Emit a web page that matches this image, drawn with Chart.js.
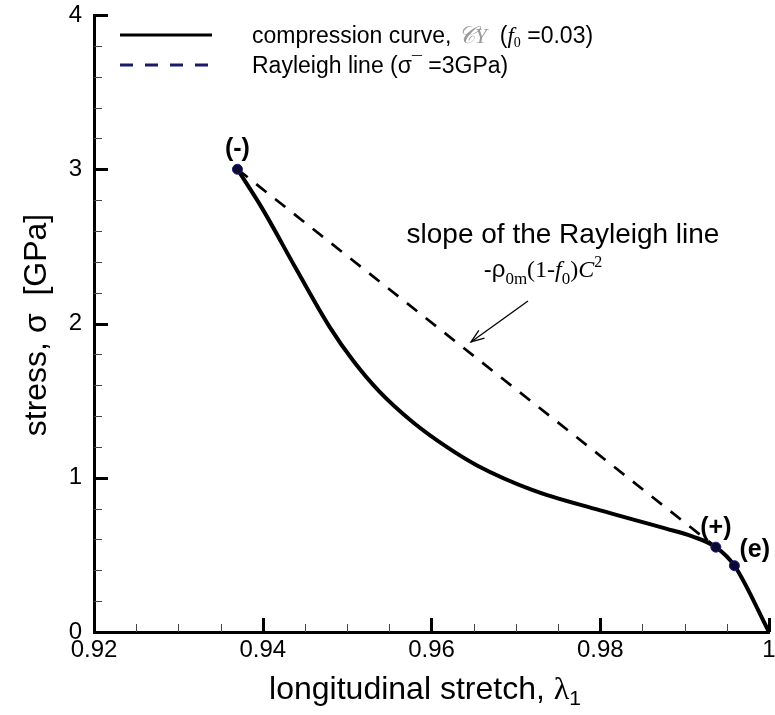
<!DOCTYPE html>
<html>
<head>
<meta charset="utf-8">
<script src="https://cdn.jsdelivr.net/npm/chart.js@4.4.0/dist/chart.umd.min.js"></script>
<style>
  html, body { margin: 0; padding: 0; background: #fff; }
  #wrap { width: 775px; height: 715px; }
</style>
</head>
<body>
<div id="wrap"><canvas id="chart1" width="775" height="715"></canvas></div>
<script>
// compression curve C_Y (f0 = 0.03)
const stretch = [0.9370, 0.9400, 0.9440, 0.9479, 0.9507, 0.9538, 0.9578, 0.9618, 0.9654, 0.9720, 0.9799, 0.9878, 0.9909, 0.9937, 0.9959, 1.0];
const stress  = [3.00, 2.74, 2.35, 1.98, 1.76, 1.56, 1.36, 1.20, 1.08, 0.92, 0.79, 0.67, 0.62, 0.55, 0.43, 0.00];

// Rayleigh line between (-) and (+)
const rayleighX = [0.9370, 0.9937];
const rayleighY = [3.00, 0.55];

// marked states
const markLabels = ['(-)', '(+)', '(e)'];
const markX = [0.9370, 0.9937, 0.9959];
const markY = [3.00, 0.55, 0.43];

const xTicks = [0.92, 0.94, 0.96, 0.98, 1];
const yTicks = [0, 1, 2, 3, 4];

const SANS = '"Liberation Sans", Arial, sans-serif';
const SERIF = '"Liberation Serif", "Times New Roman", serif';

function drawRuns(ctx, x, y, runs, align) {
    let w = 0;
    runs.forEach(r => { ctx.font = r[1]; w += ctx.measureText(r[0]).width; });
    let cx = align === 'center' ? x - w / 2 : x;
    runs.forEach(r => {
        ctx.font = r[1];
        ctx.fillStyle = r[3] || '#000';
        ctx.fillText(r[0], cx, y + (r[2] || 0));
        cx += ctx.measureText(r[0]).width;
    });
}

const decor = {
    id: 'decor',
    afterDraw(chart) {
        const ctx = chart.ctx;
        const xs = chart.scales.x, ys = chart.scales.y;
        const area = chart.chartArea;
        ctx.save();

        // inward ticks
        for (let i = 920; i <= 1000; i += 5) {
            const major = i % 20 === 0;
            const px = Math.round(xs.getPixelForValue(i / 1000)) + 0.5;
            ctx.lineWidth = major ? 3 : 1;
            ctx.strokeStyle = major ? '#000' : '#444';
            ctx.beginPath();
            ctx.moveTo(px, area.bottom);
            ctx.lineTo(px, area.bottom - (major ? 14 : 8));
            ctx.stroke();
        }
        for (let i = 0; i <= 20; i++) {
            const major = i % 5 === 0;
            const py = Math.round(ys.getPixelForValue(i / 5)) + 0.5;
            ctx.lineWidth = major ? 3 : 1;
            ctx.strokeStyle = major ? '#000' : '#444';
            ctx.beginPath();
            ctx.moveTo(area.left, py);
            ctx.lineTo(area.left + (major ? 14 : 8), py);
            ctx.stroke();
        }

        // axis titles
        ctx.textBaseline = 'alphabetic';
        drawRuns(ctx, 425, 699, [
            ['longitudinal stretch, ', '32px ' + SANS],
            ['λ', '32px ' + SERIF],
            ['1', '21px ' + SANS, 6]
        ], 'center');
        ctx.save();
        ctx.translate(46, 325);
        ctx.rotate(-Math.PI / 2);
        drawRuns(ctx, 0, 0, [
            ['stress, σ  [GPa]', '32px ' + SANS]
        ], 'center');
        ctx.restore();

        // legend
        ctx.lineWidth = 3;
        ctx.strokeStyle = '#000';
        ctx.setLineDash([]);
        ctx.beginPath(); ctx.moveTo(120, 35); ctx.lineTo(212, 35); ctx.stroke();
        ctx.strokeStyle = '#1a1a66';
        ctx.setLineDash([13, 12]);
        ctx.beginPath(); ctx.moveTo(120, 65); ctx.lineTo(212, 65); ctx.stroke();
        ctx.setLineDash([]);
        drawRuns(ctx, 252, 43, [
            ['compression curve, ', '23px ' + SANS],
            ['𝒞', 'italic 24px ' + SERIF, 0, '#999'],
            ['Y', 'italic 22px ' + SERIF, 0, '#999'],
            ['  (', '23px ' + SANS],
            ['f', 'italic 23px ' + SERIF],
            ['0', '14px ' + SERIF, 4],
            [' =0.03)', '23px ' + SANS]
        ]);
        drawRuns(ctx, 252, 73, [
            ['Rayleigh line (σ', '23px ' + SANS],
            ['¯', '18px ' + SANS, -4],
            [' =3GPa)', '23px ' + SANS]
        ]);

        // slope annotation
        drawRuns(ctx, 563, 243, [['slope of the Rayleigh line', '28px ' + SANS]], 'center');
        drawRuns(ctx, 543, 277, [
            ['-ρ', '24px ' + SANS],
            ['0m', '17px ' + SERIF, 7],
            ['(1-', '24px ' + SERIF],
            ['f', 'italic 24px ' + SERIF],
            ['0', '17px ' + SERIF, 7],
            [')', '24px ' + SERIF],
            ['C', 'italic 24px ' + SERIF],
            ['2', '16px ' + SERIF, -10]
        ], 'center');
        // arrow
        const ax0 = 528, ay0 = 301, ax1 = 471, ay1 = 342;
        ctx.strokeStyle = '#000';
        ctx.lineWidth = 1.3;
        ctx.beginPath(); ctx.moveTo(ax0, ay0); ctx.lineTo(ax1, ay1); ctx.stroke();
        const ang = Math.atan2(ay1 - ay0, ax1 - ax0);
        ctx.beginPath();
        ctx.moveTo(ax1 - 14 * Math.cos(ang - 0.35), ay1 - 14 * Math.sin(ang - 0.35));
        ctx.lineTo(ax1, ay1);
        ctx.lineTo(ax1 - 14 * Math.cos(ang + 0.35), ay1 - 14 * Math.sin(ang + 0.35));
        ctx.stroke();

        // point labels
        const offs = [[0, -13, 'center'], [0, -12, 'center'], [5, -9, 'left']];
        markLabels.forEach((t, i) => {
            const px = xs.getPixelForValue(markX[i]) + offs[i][0];
            const py = ys.getPixelForValue(markY[i]) + offs[i][1];
            drawRuns(ctx, px, py, [[t, 'bold 25px ' + SANS]], offs[i][2]);
        });

        ctx.restore();
    }
};

const ctx1 = document.getElementById('chart1').getContext('2d');
const chart1 = new Chart(ctx1, {
    type: 'scatter',
    data: {
        datasets: [{
            label: 'marks',
            data: markX.map((x, i) => ({ x: x, y: markY[i] })),
            pointRadius: 5,
            pointBackgroundColor: '#0a0a33',
            pointBorderColor: '#1a1a80',
            pointBorderWidth: 1,
            showLine: false,
            order: 0
        }, {
            label: 'compression curve',
            data: stretch.map((x, i) => ({ x: x, y: stress[i] })),
            showLine: true,
            borderColor: '#000',
            borderWidth: 4,
            pointRadius: 0,
            cubicInterpolationMode: 'monotone',
            order: 1
        }, {
            label: 'Rayleigh line',
            data: rayleighX.map((x, i) => ({ x: x, y: rayleighY[i] })),
            showLine: true,
            borderColor: '#000',
            borderWidth: 2.7,
            borderDash: [13, 11],
            pointRadius: 0,
            order: 2
        }]
    },
    options: {
        responsive: false,
        animation: false,
        layout: { padding: { top: 15, right: 5, left: 0, bottom: 0 } },
        plugins: { legend: { display: false }, tooltip: { enabled: false } },
        scales: {
            x: {
                type: 'linear',
                min: 0.92, max: 1,
                afterFit(s) { s.height = 83; s.paddingLeft = 0; s.paddingRight = 0; },
                afterBuildTicks(s) { s.ticks = xTicks.map(v => ({ value: v })); },
                grid: { display: false, drawTicks: false },
                border: { display: true, color: '#000', width: 3 },
                ticks: {
                    padding: 4,
                    color: '#000',
                    maxRotation: 0,
                    font: { family: SANS, size: 24 },
                    callback: v => String(+v.toFixed(2))
                }
            },
            y: {
                type: 'linear',
                min: 0, max: 4,
                afterFit(s) { s.width = 94; s.paddingTop = 0; s.paddingBottom = 0; },
                afterBuildTicks(s) { s.ticks = yTicks.map(v => ({ value: v })); },
                grid: { display: false, drawTicks: false },
                border: { display: true, color: '#000', width: 3 },
                ticks: {
                    padding: 12,
                    color: '#000',
                    font: { family: SANS, size: 24 },
                    callback: v => String(v)
                }
            }
        }
    },
    plugins: [decor]
});
</script>
</body>
</html>
